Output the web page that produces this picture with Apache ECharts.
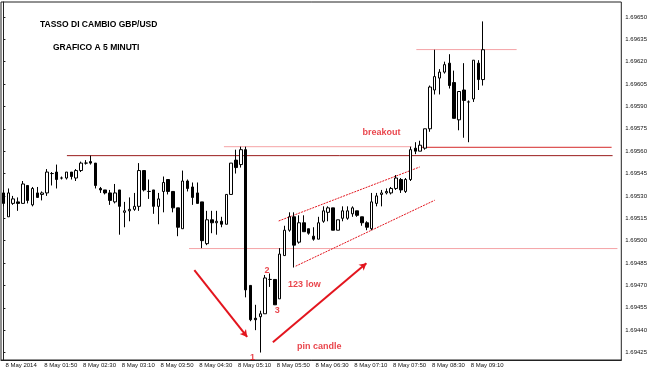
<!DOCTYPE html>
<html><head><meta charset="utf-8">
<script src="https://cdn.jsdelivr.net/npm/echarts@6/dist/echarts.min.js"></script>
<style>html,body{margin:0;padding:0;background:#fff}#c{width:650px;height:371px}</style>
</head><body><div id="c"></div>
<script>
// ---- data ----
const titleLines = ['TASSO DI CAMBIO GBP/USD', 'GRAFICO A 5 MINUTI'];
const tickLabels = ['8 May 2014','8 May 01:50','8 May 02:30','8 May 03:10','8 May 03:50','8 May 04:30',
  '8 May 05:10','8 May 05:50','8 May 06:30','8 May 07:10','8 May 07:50','8 May 08:30','8 May 09:10'];
const yTicks = [1.69425,1.69440,1.69455,1.69470,1.69485,1.69500,1.69515,1.69530,1.69545,1.69560,1.69575,1.69590,1.69605,1.69620,1.69635,1.69650];
const open = [1.69532,1.69516,1.69525,1.69526,1.69525,1.69537,1.69524,1.69532,1.69531,1.69532,
 1.69545,1.69546,1.69542,1.69542,1.69546,1.69542,1.69547,1.69552,1.69553,1.69552,
 1.69535,1.69534,1.69532,1.69526,1.69534,1.69519,1.69520,1.69521,1.69523,1.69547,
 1.69533,1.69534,1.69523,1.69533,1.69541,1.69533,1.69522,1.69508,1.69540,1.69536,
 1.69532,1.69526,1.69498,1.69514,1.69512,1.69513,1.69511,1.69531,1.69554,1.69551,
 1.69561,1.69470,1.69448,1.69449,1.69451,1.69474,1.69474,1.69461,1.69490,1.69507,
 1.69516,1.69499,1.69512,1.69508,1.69503,1.69501,1.69513,1.69519,1.69522,1.69507,
 1.69515,1.69515,1.69518,1.69520,1.69516,1.69512,1.69508,1.69525,1.69531,1.69532,
 1.69532,1.69535,1.69541,1.69533,1.69541,1.69562,1.69560,1.69562,1.69575,1.69601,
 1.69609,1.69613,1.69619,1.69606,1.69581,1.69601,1.69593,1.69595,1.69619,1.69608];
const close = [1.69525,1.69532,1.69528,1.69525,1.69538,1.69527,1.69535,1.69529,1.69532,1.69546,
 1.69545,1.69541,1.69542,1.69546,1.69543,1.69547,1.69552,1.69552,1.69552,1.69537,
 1.69534,1.69532,1.69527,1.69532,1.69523,1.69520,1.69521,1.69523,1.69547,1.69534,
 1.69533,1.69523,1.69528,1.69539,1.69533,1.69522,1.69509,1.69540,1.69535,1.69529,
 1.69525,1.69500,1.69514,1.69512,1.69513,1.69511,1.69531,1.69552,1.69549,1.69561,
 1.69467,1.69447,1.69447,1.69451,1.69475,1.69474,1.69457,1.69491,1.69507,1.69516,
 1.69497,1.69512,1.69506,1.69505,1.69501,1.69512,1.69520,1.69522,1.69507,1.69514,
 1.69520,1.69520,1.69522,1.69517,1.69512,1.69509,1.69526,1.69530,1.69532,1.69533,
 1.69535,1.69542,1.69534,1.69541,1.69561,1.69560,1.69564,1.69575,1.69603,1.69610,
 1.69613,1.69618,1.69604,1.69582,1.69600,1.69594,1.69593,1.69621,1.69608,1.69628];
const low = [1.69523,1.69516,1.69524,1.69520,1.69525,1.69525,1.69523,1.69529,1.69527,1.69530,
 1.69537,1.69535,1.69541,1.69541,1.69541,1.69540,1.69546,1.69551,1.69551,1.69535,
 1.69532,1.69531,1.69524,1.69525,1.69504,1.69509,1.69513,1.69520,1.69520,1.69533,
 1.69528,1.69518,1.69511,1.69519,1.69531,1.69519,1.69503,1.69508,1.69533,1.69524,
 1.69525,1.69495,1.69497,1.69505,1.69504,1.69509,1.69511,1.69531,1.69545,1.69549,
 1.69462,1.69446,1.69440,1.69425,1.69451,1.69469,1.69457,1.69461,1.69490,1.69506,
 1.69482,1.69498,1.69506,1.69504,1.69500,1.69501,1.69512,1.69513,1.69507,1.69507,
 1.69513,1.69514,1.69516,1.69516,1.69510,1.69507,1.69507,1.69523,1.69523,1.69531,
 1.69531,1.69534,1.69532,1.69532,1.69540,1.69558,1.69560,1.69561,1.69573,1.69598,
 1.69598,1.69612,1.69602,1.69582,1.69574,1.69569,1.69566,1.69593,1.69601,1.69604];
const high = [1.69534,1.69535,1.69530,1.69529,1.69540,1.69537,1.69536,1.69536,1.69533,1.69548,
 1.69546,1.69551,1.69543,1.69546,1.69546,1.69548,1.69553,1.69554,1.69557,1.69552,
 1.69536,1.69534,1.69534,1.69538,1.69534,1.69526,1.69529,1.69532,1.69552,1.69547,
 1.69541,1.69534,1.69532,1.69543,1.69541,1.69533,1.69522,1.69547,1.69541,1.69539,
 1.69539,1.69526,1.69520,1.69520,1.69520,1.69516,1.69531,1.69552,1.69561,1.69563,
 1.69563,1.69470,1.69457,1.69453,1.69477,1.69478,1.69474,1.69495,1.69510,1.69519,
 1.69519,1.69517,1.69517,1.69508,1.69509,1.69516,1.69523,1.69523,1.69522,1.69514,
 1.69523,1.69523,1.69523,1.69520,1.69516,1.69513,1.69532,1.69532,1.69534,1.69535,
 1.69536,1.69544,1.69542,1.69542,1.69563,1.69566,1.69567,1.69575,1.69604,1.69628,
 1.69615,1.69620,1.69625,1.69614,1.69600,1.69619,1.69594,1.69621,1.69621,1.69647];
const totalSlots = 128;       // bars visible incl. empty right-side shift
const labelEvery = 8;         // one time label every 8 bars (40 min)
// annotation objects: [barIndex, price]
const levelDark  = [[13.1,1.69557],[125.7,1.69557]];
const levelRed   = [[85.6,1.695626],[125.5,1.695626]];
const levelPinkTop = [[45.5,1.69563],[84.2,1.69563]];
const levelPinkLow = [[38.3,1.694947],[126.7,1.694947]];
const levelPinkHigh = [[85.2,1.696281],[105.9,1.696281]];
const channelUp  = [[56.8,1.695132],[85.9,1.695494]];
const channelLow = [[60.3,1.694829],[89.0,1.695271]];
const arrowDown  = [[39.4,1.694802],[50.3,1.694355]];
const arrowUp    = [[55.6,1.694319],[74.9,1.694849]];
const notes = [
  {name:'breakout', value:[78.0,1.695727]},
  {name:'123 low', value:[62.1,1.694705]},
  {name:'pin candle', value:[65.15,1.694288]},
  {name:'1', value:[51.4,1.694219]},
  {name:'2', value:[54.4,1.694802]},
  {name:'3', value:[56.5,1.694534]}
];

// ---- build ----
const cats = [];
for (let i = 0; i < totalSlots; i++) cats.push(String(i));
const ohlc = open.map((o, i) => [o, close[i], low[i], high[i]]);
const RED = '#e3151e', PINK = '#f5a3a6';
function seg(data, color, width, type) {
  return {type:'line', xAxisIndex:1, yAxisIndex:0, data, symbol:'none', silent:true,
    lineStyle:{color, width:width||1, type:type||'solid'}, z:3, animation:false};
}
const chart = echarts.init(document.getElementById('c'), null, {renderer:'canvas'});
chart.setOption({
  animation:false,
  backgroundColor:'#ffffff',
  grid:{left:1, right:26, top:2, bottom:11, show:true, borderColor:'#222', borderWidth:1, backgroundColor:'#fff'},
  graphic:[
    {type:'text', left:40, top:20, style:{text:titleLines[0], font:'bold 8.5px "Liberation Sans"', fill:'#000'}},
    {type:'text', left:53, top:43, style:{text:titleLines[1], font:'bold 8.5px "Liberation Sans"', fill:'#000'}}
  ],
  xAxis:[{
    type:'category', data:cats, boundaryGap:true,
    axisLine:{lineStyle:{color:'#222', width:1}},
    axisTick:{alignWithLabel:true, length:4, lineStyle:{color:'#222'},
      interval:(i)=> i % labelEvery === 0 && i/labelEvery < tickLabels.length},
    axisLabel:{interval:(i)=> i % labelEvery === 0 && i/labelEvery < tickLabels.length,
      formatter:(v, i)=> tickLabels[i/labelEvery] || '', align:'left', margin:2, padding:[0,0,0,2],
      fontSize:6, fontFamily:'Liberation Sans', color:'#111'},
    splitLine:{show:false}
  },{
    type:'value', min:-0.5, max:totalSlots-0.5, show:false
  }],
  yAxis:[{
    type:'value', position:'right', min:1.69420, max:1.69660,
    axisLine:{show:true, lineStyle:{color:'#222'}},
    axisTick:{show:true, length:2, customValues:yTicks, lineStyle:{color:'#222'}},
    axisLabel:{customValues:yTicks, formatter:(v)=>v.toFixed(5), fontSize:6, fontFamily:'Liberation Sans', color:'#111', margin:4},
    splitLine:{show:false}
  }],
  series:[
    seg(levelDark, '#9a1c1c'),
    seg(levelRed, '#d42a2a'),
    seg(levelPinkTop, PINK),
    seg(levelPinkLow, PINK),
    seg(levelPinkHigh, PINK),
    seg(channelUp, RED, 1, [2,1]),
    seg(channelLow, RED, 1, [2,1]),
    {type:'candlestick', xAxisIndex:0, yAxisIndex:0, data:ohlc, barWidth:3, z:4,
      itemStyle:{color:'#ffffff', color0:'#000000', borderColor:'#000000', borderColor0:'#000000', borderWidth:1}},
    {type:'line', xAxisIndex:1, yAxisIndex:0, data:[], symbol:'none',
      markLine:{silent:true, symbol:['none','arrow'], symbolSize:[6,7], label:{show:false},
        lineStyle:{color:RED, width:2, type:'solid'},
        data:[[{coord:arrowDown[0]},{coord:arrowDown[1]}],[{coord:arrowUp[0]},{coord:arrowUp[1]}]]}},
    {type:'scatter', xAxisIndex:1, yAxisIndex:0, data:notes, symbolSize:0, z:6,
      label:{show:true, position:'inside', formatter:'{b}', color:RED, fontWeight:'bold', fontSize:9, fontFamily:'Liberation Sans'}}
  ]
});
</script>
</body></html>
